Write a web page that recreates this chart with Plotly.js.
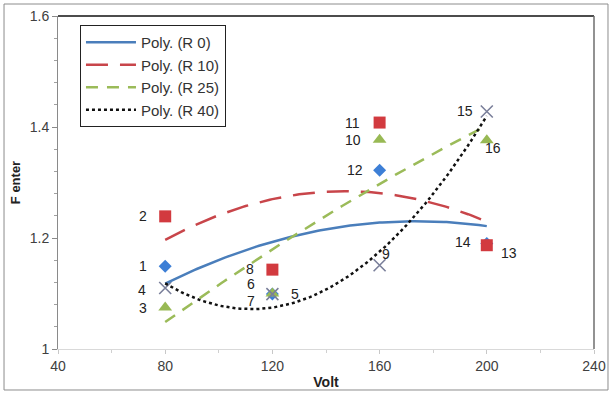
<!DOCTYPE html>
<html>
<head>
<meta charset="utf-8">
<script src="https://cdn.plot.ly/plotly-3.0.1.min.js"></script>
<style>
  html, body { margin: 0; padding: 0; background: #ffffff; }
  #chart { width: 612px; height: 394px; }
</style>
</head>
<body>
<div id="chart"></div>
<script>
// ---- data ----
const volts = [80, 120, 160, 200];
const seriesNames = ["R 0", "R 10", "R 25", "R 40"];
const fR0  = [1.149, 1.099, 1.322, 1.190];
const fR10 = [1.239, 1.143, 1.408, 1.187];
const fR25 = [1.075, 1.100, 1.377, 1.376];
const fR40 = [1.110, 1.099, 1.151, 1.428];
const numR0  = ["1", "5", "12", "13"];
const numR10 = ["2", "8", "11", "14"];
const numR25 = ["3", "7", "10", "16"];
const numR40 = ["4", "6", "9", "15"];
const xTicks = [40, 80, 120, 160, 200, 240];
const yTicks = [1, 1.2, 1.4, 1.6];

// ---- styles ----
const FONT = "Liberation Sans, Arial, sans-serif";
const styles = [
  {marker: {symbol: "diamond", color: "#3d7fd6", size: 10}, line: {color: "#4a7ebb", width: 2.5, dash: "solid"}},
  {marker: {symbol: "square", color: "#d23a3f", size: 12}, line: {color: "#c8454a", width: 2.5, dash: "22px,12px"}},
  {marker: {symbol: "triangle-up", color: "#98b954", size: 12}, line: {color: "#9bbb59", width: 2.5, dash: "12px,9px"}},
  {marker: {symbol: "x-thin-open", color: "#7a7f9a", size: 12, line: {width: 1.6, color: "#7a7f9a"}}, line: {color: "#111111", width: 2.5, dash: "dot"}}
];
// label offsets (px) per series per point
const labelShift = [
  [[-22, 0], [23, 0], [-25, 0], [22, -9]],
  [[-22, 0], [-22, 1], [-27, 0], [-24, 3]],
  [[-22, -1], [-21, -7], [-27, 0], [6, -8]],
  [[-23, -2], [-21, 10], [6, 11], [-22, 0]]
];

const ys = [fR0, fR10, fR25, fR40];
const nums = [numR0, numR10, numR25, numR40];

// order-2 polynomial least-squares fit (as the "Poly." trendlines)
function polyFit2(xs, yv) {
  let S = [0,0,0,0,0], T = [0,0,0];
  for (let i = 0; i < xs.length; i++) {
    let p = 1;
    for (let k = 0; k < 5; k++) { S[k] += p; if (k < 3) T[k] += p * yv[i]; p *= xs[i]; }
  }
  const A = [[S[0],S[1],S[2],T[0]],[S[1],S[2],S[3],T[1]],[S[2],S[3],S[4],T[2]]];
  for (let c = 0; c < 3; c++) {
    for (let r = c + 1; r < 3; r++) {
      const f = A[r][c] / A[c][c];
      for (let k = c; k < 4; k++) A[r][k] -= f * A[c][k];
    }
  }
  const co = [0,0,0];
  for (let r = 2; r >= 0; r--) {
    let s = A[r][3];
    for (let k = r + 1; k < 3; k++) s -= A[r][k] * co[k];
    co[r] = s / A[r][r];
  }
  return co;
}

const traces = [];
const annotations = [];
for (let s = 0; s < 4; s++) {
  traces.push({
    x: volts, y: ys[s], type: "scatter", mode: "markers",
    name: seriesNames[s], showlegend: false,
    marker: styles[s].marker, hoverinfo: "x+y"
  });
}
for (let s = 0; s < 4; s++) {
  const co = polyFit2(volts, ys[s]);
  const fx = [], fy = [];
  const x0 = Math.min(...volts), x1 = Math.max(...volts);
  for (let i = 0; i <= 120; i++) {
    const x = x0 + (x1 - x0) * i / 120;
    fx.push(x); fy.push(co[0] + co[1] * x + co[2] * x * x);
  }
  traces.push({
    x: fx, y: fy, type: "scatter", mode: "lines",
    name: "Poly. (" + seriesNames[s] + ")",
    line: styles[s].line, hoverinfo: "skip"
  });
}
for (let s = 0; s < 4; s++) {
  for (let i = 0; i < volts.length; i++) {
    annotations.push({
      x: volts[i], y: ys[s][i], xref: "x", yref: "y",
      text: nums[s][i], showarrow: false,
      xshift: labelShift[s][i][0], yshift: labelShift[s][i][1],
      font: {family: FONT, size: 14, color: "#222222"}
    });
  }
}

const layout = {
  width: 612, height: 394,
  margin: {l: 58, r: 18, t: 16, b: 45},
  paper_bgcolor: "#ffffff", plot_bgcolor: "#ffffff",
  font: {family: FONT, size: 14, color: "#404040"},
  showlegend: true,
  legend: {
    x: 0.041, y: 0.973, xanchor: "left", yanchor: "top",
    bgcolor: "#ffffff", bordercolor: "#222222", borderwidth: 1,
    font: {family: FONT, size: 15, color: "#333333"},
    itemwidth: 50, tracegroupgap: 0
  },
  xaxis: {
    range: [40, 240], tickvals: xTicks, ticktext: xTicks.map(String),
    showgrid: false, zeroline: false,
    showline: true, linecolor: "#d9d9d9", linewidth: 1,
    ticks: "outside", ticklen: 4, tickcolor: "#c8c8c8",
    minor: {dtick: 20, ticks: "outside", ticklen: 3, tickcolor: "#d0d0d0"},
    tickfont: {family: FONT, size: 14, color: "#404040"},
    title: {text: "<b>Volt</b>", font: {family: FONT, size: 14, color: "#222222"}, standoff: 4}
  },
  yaxis: {
    range: [1, 1.6], tickvals: yTicks, ticktext: yTicks.map(String),
    showgrid: false, zeroline: false,
    showline: true, linecolor: "#8a8a8a", linewidth: 1,
    ticks: "outside", ticklen: 5, tickcolor: "#8a8a8a",
    minor: {dtick: 0.04, ticks: "outside", ticklen: 3, tickcolor: "#a0a0a0"},
    tickfont: {family: FONT, size: 14, color: "#404040"},
    title: {text: "<b>F enter</b>", font: {family: FONT, size: 13, color: "#222222"}, standoff: 6}
  },
  shapes: [
    {type: "line", xref: "paper", yref: "paper", x0: 0, x1: 1, y0: 1, y1: 1, line: {color: "#111111", width: 1.5}},
    {type: "line", xref: "paper", yref: "paper", x0: 1, x1: 1, y0: 0, y1: 1, line: {color: "#6e6e6e", width: 1.5}},
    {type: "rect", xref: "paper", yref: "paper", x0: -0.1007, x1: 1.0261, y0: -0.1231, y1: 1.036, line: {color: "#8c8c8c", width: 1}}
  ],
  annotations: annotations
};

Plotly.newPlot("chart", traces, layout, {displayModeBar: false, staticPlot: true});
</script>
</body>
</html>
